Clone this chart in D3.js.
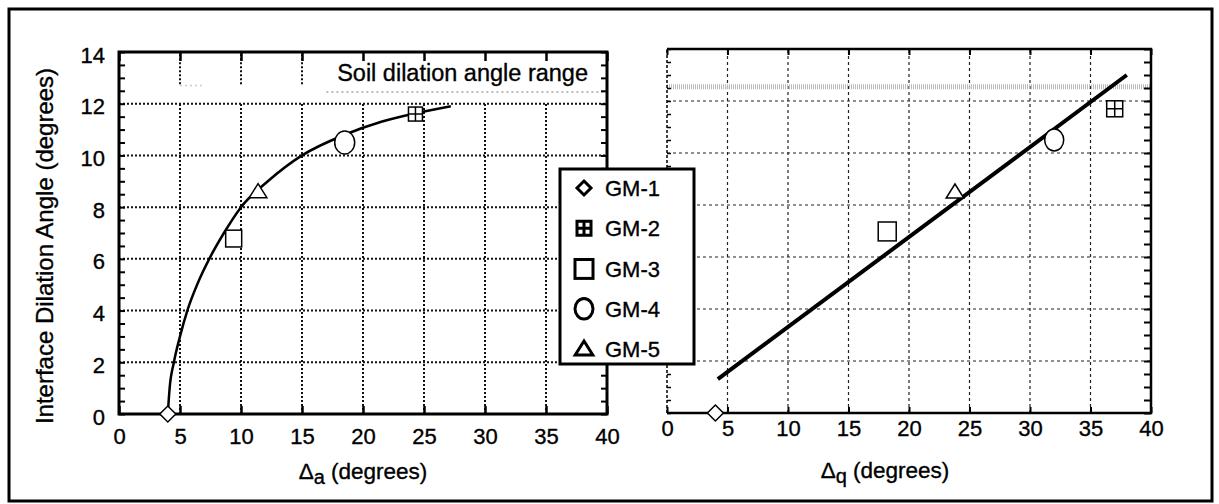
<!DOCTYPE html>
<html>
<head>
<meta charset="utf-8">
<script src="https://cdn.jsdelivr.net/npm/d3@7"></script>
<style>
  body { margin: 0; background: #fff; }
  svg { display: block; font-family: "Liberation Sans", Arial, sans-serif; }
  svg text { stroke: #000; stroke-width: 0.35px; }
  .tick line { stroke: #000; }
</style>
</head>
<body>
<div id="container"></div>
<script>
// data
const materials = ["GM-1", "GM-2", "GM-3", "GM-4", "GM-5"];
const markerTypes = ["diamond", "boxplus", "square", "circle", "triangle"];
const deltaA = [4.0, 24.3, 9.4, 18.5, 11.4];
const dilationA = [0, 11.6, 6.8, 10.5, 8.6];
const deltaQ = [4.0, 37.0, 18.2, 32.0, 23.8];
const dilationQ = [0, 11.7, 7.0, 10.5, 8.5];
// fitted curves drawn in the figure
const fitA = [[4.0, 0], [4.15, 1], [4.5, 2], [5.0, 3], [5.6, 4], [6.4, 5], [7.4, 6], [8.6, 7],
  [10.0, 8], [12.2, 9], [15.0, 10], [18.5, 10.8], [21.5, 11.3], [24.5, 11.65], [27.2, 11.9]];
const fitQ = [[4.2, 1.3], [38.0, 13.0]];
const xTicks = [0, 5, 10, 15, 20, 25, 30, 35, 40];
const yTicks = [0, 2, 4, 6, 8, 10, 12, 14];

const W = 1219, H = 504;
const svg = d3.select("#container").append("svg").attr("width", W).attr("height", H);

// outer frame
svg.append("rect").attr("x", 9).attr("y", 9).attr("width", 1203).attr("height", 492)
  .attr("fill", "none").attr("stroke", "#000").attr("stroke-width", 3);

const xL = d3.scaleLinear().domain([0, 40]).range([119, 607]);
const yL = d3.scaleLinear().domain([0, 14]).range([414, 52]);
const xR = d3.scaleLinear().domain([0, 40]).range([667, 1151]);
const yR = d3.scaleLinear().domain([0, 14]).range([413, 49]);

function marker(g, type, x, y, s, sw) {
  const m = g.append("g").attr("transform", `translate(${x},${y})`)
    .attr("fill", "#fff").attr("stroke", "#000").attr("stroke-width", sw);
  if (type === "diamond") {
    m.append("path").attr("d", `M0,${-s}L${s},0L0,${s}L${-s},0Z`);
  } else if (type === "boxplus") {
    m.append("rect").attr("x", -s).attr("y", -s).attr("width", 2 * s).attr("height", 2 * s);
    m.append("path").attr("d", `M0,${-s}V${s}M${-s},0H${s}`);
  } else if (type === "square") {
    m.append("rect").attr("x", -s).attr("y", -s).attr("width", 2 * s).attr("height", 2 * s * 1.05);
  } else if (type === "circle") {
    m.append("ellipse").attr("rx", s).attr("ry", s * 1.15);
  } else {
    m.append("path").attr("d", `M0,${-s}L${s * 1.1},${s * 0.75}L${-s * 1.1},${s * 0.75}Z`);
  }
}

// ---------- left panel ----------
const gL = svg.append("g");
// gridlines (dotted)
gL.selectAll(".hg").data(yTicks.filter(d => d > 0 && d < 14)).enter().append("line")
  .attr("x1", xL(0)).attr("x2", xL(40)).attr("y1", d => yL(d)).attr("y2", d => yL(d))
  .attr("stroke", "#111").attr("stroke-width", 2).attr("stroke-dasharray", "2,2");
gL.selectAll(".vg").data(xTicks.filter(d => d > 0 && d < 40)).enter().append("line")
  .attr("x1", d => xL(d)).attr("x2", d => xL(d)).attr("y1", yL(0)).attr("y2", yL(12))
  .attr("stroke", "#111").attr("stroke-width", 2).attr("stroke-dasharray", "2,2");
gL.selectAll(".vg2").data([5, 10, 15]).enter().append("line")
  .attr("x1", d => xL(d)).attr("x2", d => xL(d)).attr("y1", yL(12.75)).attr("y2", yL(14))
  .attr("stroke", "#111").attr("stroke-width", 2).attr("stroke-dasharray", "2,2");
// faint band of the soil dilation range
gL.append("line").attr("x1", xL(17)).attr("x2", xL(40)).attr("y1", yL(12.45)).attr("y2", yL(12.45))
  .attr("stroke", "#bbb").attr("stroke-width", 2).attr("stroke-dasharray", "2,3");
gL.append("line").attr("x1", xL(5)).attr("x2", xL(7)).attr("y1", yL(12.7)).attr("y2", yL(12.7))
  .attr("stroke", "#ccc").attr("stroke-width", 1.5).attr("stroke-dasharray", "2,3");

// minor ticks + frame
gL.append("g").attr("transform", `translate(${xL(0)},0)`)
  .call(d3.axisLeft(yL).tickValues(d3.range(0, 14.01, 0.5)).tickSize(-6).tickFormat(""))
  .call(g => g.selectAll("line").attr("stroke-width", 2));
gL.append("g").attr("transform", `translate(${xL(40)},0)`)
  .call(d3.axisRight(yL).tickValues(d3.range(0, 14.01, 0.5)).tickSize(-6).tickFormat(""))
  .call(g => g.selectAll("line").attr("stroke-width", 2));
gL.append("g").attr("transform", `translate(0,${yL(14)})`)
  .call(d3.axisTop(xL).tickValues(xTicks).tickSize(-9).tickFormat(""))
  .call(g => g.selectAll("line").attr("stroke-width", 2.5));
gL.selectAll("path.domain").remove();
gL.append("rect").attr("x", xL(0)).attr("y", yL(14)).attr("width", xL(40) - xL(0)).attr("height", yL(0) - yL(14))
  .attr("fill", "none").attr("stroke", "#000").attr("stroke-width", 3);

// tick labels
gL.append("g").attr("transform", `translate(0,${yL(0)})`)
  .call(d3.axisBottom(xL).tickValues(xTicks).tickSize(-8).tickPadding(14))
  .call(g => g.select(".domain").remove())
  .call(g => g.selectAll("line").attr("stroke-width", 2.5))
  .call(g => g.selectAll("text").attr("font-size", 22).attr("fill", "#000").attr("font-family", "Liberation Sans, Arial"));
gL.append("g").attr("transform", `translate(${xL(0)},3)`)
  .call(d3.axisLeft(yL).tickValues(yTicks).tickSize(0).tickPadding(14))
  .call(g => g.select(".domain").remove())
  .call(g => g.selectAll("text").attr("font-size", 22).attr("fill", "#000").attr("font-family", "Liberation Sans, Arial"));

gL.append("text").attr("x", 588).attr("y", 81).attr("text-anchor", "end")
  .attr("font-size", 23.5).text("Soil dilation angle range");

// curve and points
gL.append("path").datum(fitA)
  .attr("d", d3.line().x(d => xL(d[0])).y(d => yL(d[1])).curve(d3.curveMonotoneX))
  .attr("fill", "none").attr("stroke", "#000").attr("stroke-width", 2.5);
materials.forEach((m, i) => {
  const sz = { diamond: 8, boxplus: 7, square: 8, circle: 10, triangle: 8 }[markerTypes[i]];
  marker(gL, markerTypes[i], xL(deltaA[i]), yL(dilationA[i]), sz, 1.5);
});

// axis titles
svg.append("text").attr("transform", `translate(53,246) rotate(-90)`)
  .attr("text-anchor", "middle").attr("font-size", 24).text("Interface Dilation Angle (degrees)");
const tA = svg.append("text").attr("x", (xL(0) + xL(40)) / 2).attr("y", 479)
  .attr("text-anchor", "middle").attr("font-size", 22.5);
tA.append("tspan").text("Δ");
tA.append("tspan").attr("dy", 5).attr("font-size", 20).text("a");
tA.append("tspan").attr("dy", -5).text(" (degrees)");

// ---------- right panel ----------
const gR = svg.append("g");
gR.selectAll(".hg").data(yTicks.filter(d => d > 0 && d < 14)).enter().append("line")
  .attr("x1", xR(0)).attr("x2", xR(40)).attr("y1", d => yR(d)).attr("y2", d => yR(d))
  .attr("stroke", "#222").attr("stroke-width", 1.2).attr("stroke-dasharray", "3,3");
gR.selectAll(".vg").data(xTicks.filter(d => d > 0 && d < 40)).enter().append("line")
  .attr("x1", d => xR(d)).attr("x2", d => xR(d)).attr("y1", yR(0)).attr("y2", yR(14))
  .attr("stroke", "#222").attr("stroke-width", 1.2).attr("stroke-dasharray", "3,3");
gR.append("line").attr("x1", xR(0)).attr("x2", xR(40)).attr("y1", yR(12.55)).attr("y2", yR(12.55))
  .attr("stroke", "#bbb").attr("stroke-width", 5).attr("stroke-dasharray", "1,1");

gR.append("g").attr("transform", `translate(${xR(40)},0)`)
  .call(d3.axisRight(yR).tickValues(d3.range(0, 14.01, 0.5)).tickSize(-7).tickFormat(""))
  .call(g => g.selectAll("line").attr("stroke-width", 2));
gR.append("g").attr("transform", `translate(${xR(0)},0)`)
  .call(d3.axisLeft(yR).tickValues(d3.range(0, 14.01, 0.5)).tickSize(-4).tickFormat(""))
  .call(g => g.selectAll("line").attr("stroke-width", 1.5));
gR.append("g").attr("transform", `translate(0,${yR(14)})`)
  .call(d3.axisTop(xR).tickValues(xTicks).tickSize(-6).tickFormat(""))
  .call(g => g.selectAll("line").attr("stroke-width", 2));
gR.selectAll("path.domain").remove();
gR.append("line").attr("x1", xR(0)).attr("x2", xR(0)).attr("y1", yR(0)).attr("y2", yR(14))
  .attr("stroke", "#000").attr("stroke-width", 1.5).attr("stroke-dasharray", "3,2");
gR.append("path")
  .attr("d", `M${xR(0)},${yR(14)}H${xR(40)}V${yR(0)}H${xR(0)}`)
  .attr("fill", "none").attr("stroke", "#000").attr("stroke-width", 2.5);

gR.append("g").attr("transform", `translate(0,${yR(0)})`)
  .call(d3.axisBottom(xR).tickValues(xTicks).tickSize(-6).tickPadding(7))
  .call(g => g.select(".domain").remove())
  .call(g => g.selectAll("line").attr("stroke-width", 2))
  .call(g => g.selectAll("text").attr("font-size", 22).attr("fill", "#000").attr("font-family", "Liberation Sans, Arial"));

gR.append("path").datum(fitQ)
  .attr("d", d3.line().x(d => xR(d[0])).y(d => yR(d[1])))
  .attr("fill", "none").attr("stroke", "#000").attr("stroke-width", 4);
materials.forEach((m, i) => {
  const sz = { diamond: 8, boxplus: 8, square: 9, circle: 9.5, triangle: 8 }[markerTypes[i]];
  marker(gR, markerTypes[i], xR(deltaQ[i]), yR(dilationQ[i]), sz, 1.5);
});

const tQ = svg.append("text").attr("x", 885).attr("y", 478)
  .attr("text-anchor", "middle").attr("font-size", 22.5);
tQ.append("tspan").text("Δ");
tQ.append("tspan").attr("dy", 5).attr("font-size", 20).text("q");
tQ.append("tspan").attr("dy", -5).text(" (degrees)");

// ---------- legend ----------
const lg = svg.append("g");
lg.append("rect").attr("x", 560).attr("y", 169).attr("width", 134).attr("height", 195)
  .attr("fill", "#fff").attr("stroke", "#000").attr("stroke-width", 3);
const ly = d3.scalePoint().domain(materials).range([188, 349]);
materials.forEach((m, i) => {
  const sz = { diamond: 7, boxplus: 7, square: 9, circle: 9, triangle: 8 }[markerTypes[i]];
  marker(lg, markerTypes[i], 584, ly(m), sz, 3);
  lg.append("text").attr("x", 605).attr("y", ly(m) + 8).attr("font-size", 22).text(m);
});
</script>
</body>
</html>
